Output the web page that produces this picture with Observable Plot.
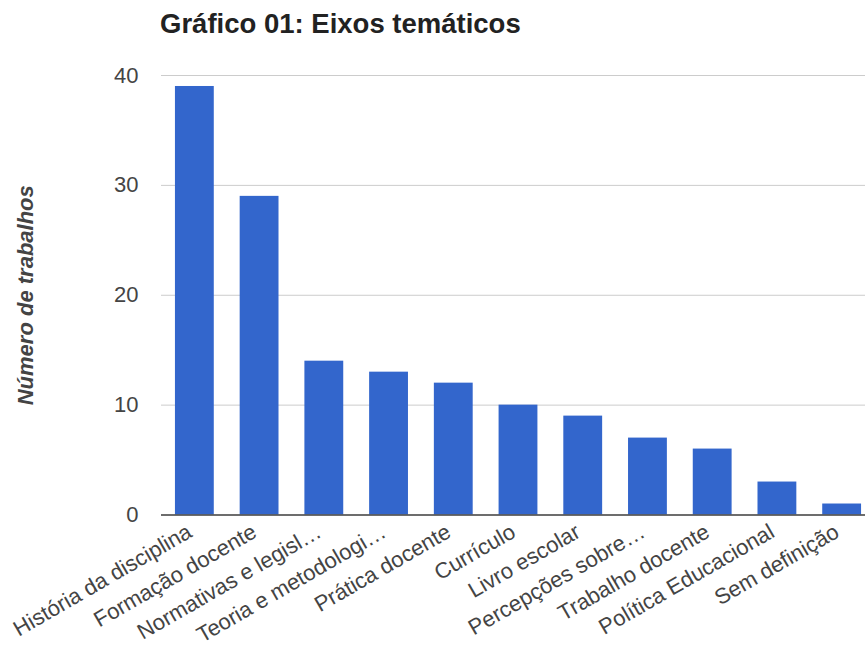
<!DOCTYPE html>
<html lang="pt">
<head>
<meta charset="utf-8">
<script src="https://cdn.jsdelivr.net/npm/d3@7"></script>
<script src="https://cdn.jsdelivr.net/npm/@observablehq/plot@0.6"></script>
<style>
  html, body { margin: 0; padding: 0; background: #fff; overflow: hidden; }
  #titulo {
    height: 46px; box-sizing: border-box; padding: 9px 0 0 160px;
    font: bold 27.5px/30px "Liberation Sans", Arial, sans-serif; color: #222;
  }
  #grafico svg g[aria-label="y-axis label"] text { font-style: italic; font-weight: bold; }
</style>
</head>
<body>
<div id="titulo">Gráfico 01: Eixos temáticos</div>
<div id="grafico"></div>
<script>
// Eixos temáticos e número de trabalhos em cada um
const categorias = [
  "História da disciplina",
  "Formação docente",
  "Normativas e legisl…",
  "Teoria e metodologi…",
  "Prática docente",
  "Currículo",
  "Livro escolar",
  "Percepções sobre…",
  "Trabalho docente",
  "Política Educacional",
  "Sem definição"
];
const trabalhos = [39, 29, 14, 13, 12, 10, 9, 7, 6, 3, 1];
const marcasY = [0, 10, 20, 30, 40];

const dados = categorias.map((eixo, i) => ({eixo, n: trabalhos[i]}));

const grafico = Plot.plot({
  width: 865,
  height: 600,
  marginTop: 29,
  marginBottom: 131.5,
  marginLeft: 161,
  marginRight: -9,
  style: {
    fontFamily: "'Liberation Sans', Arial, sans-serif",
    fontSize: "22px",
    color: "#444",
    background: "#fff",
    overflow: "hidden"
  },
  // the last band runs past the right edge of the chart, so it is cut off there
  x: {domain: categorias, range: [162, 874], round: false, paddingInner: 0.4, paddingOuter: 0.2, label: null},
  y: {domain: [0, 40], label: null},
  marks: [
    Plot.gridY(marcasY, {stroke: "#ccc", strokeOpacity: 1}),
    Plot.barY(dados, {x: "eixo", y: "n", fill: "#3366cc"}),
    Plot.ruleY([0], {stroke: "#444", strokeWidth: 1.5}),
    Plot.axisY(marcasY, {
      tickSize: 0,
      tickPadding: 23,
      label: "Número de trabalhos",
      labelAnchor: "center",
      labelArrow: "none",
      labelOffset: 144,
      fill: "#444"
    }),
    Plot.axisX({
      tickSize: 0,
      tickRotate: -30,
      tickPadding: 15,
      dx: -5,
      label: null,
      fill: "#444"
    })
  ]
});

document.getElementById("grafico").append(grafico);
</script>
</body>
</html>
